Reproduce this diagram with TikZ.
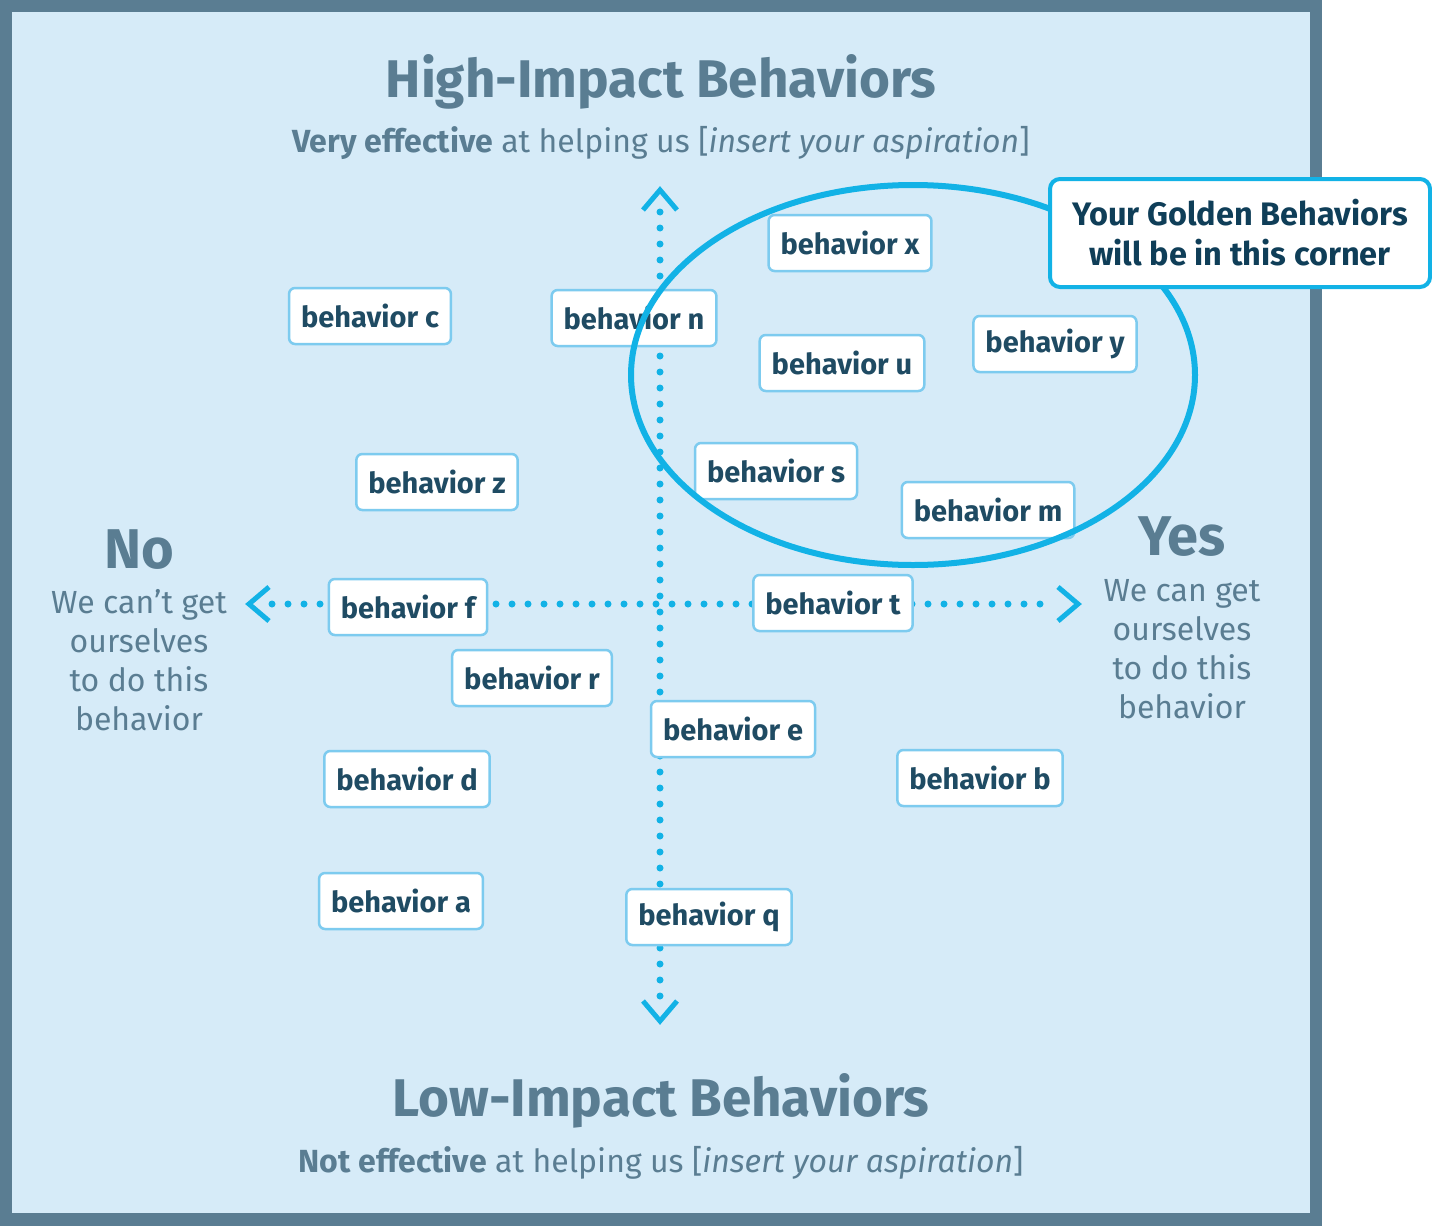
\documentclass[tikz,border=0pt]{standalone}
\usepackage{fontspec}
\setmainfont{Fira Sans}
\usetikzlibrary{calc}
\definecolor{framec}{HTML}{5A7D92}
\definecolor{bgc}{HTML}{D6EBF8}
\definecolor{cyanl}{HTML}{12B2E6}
\definecolor{boxb}{HTML}{7DCBEF}
\definecolor{ink}{HTML}{1F4B63}
\definecolor{inkd}{HTML}{0F3E58}
\definecolor{headc}{HTML}{5A7D92}
\tikzset{
  beh/.style={draw=boxb, line width=2.5pt, fill=white, rounded corners=6pt, text=ink,
    font=\fontsize{29}{32}\bfseries\selectfont, inner xsep=12pt, inner ysep=0pt, minimum height=56pt},
  dots/.style={cyanl, line width=7pt, line cap=round, dash pattern=on 0pt off 16pt},
  chev/.style={cyanl, line width=5pt, miter limit=10},
  headt/.style={text=headc, font=\fontsize{53}{60}\bfseries\selectfont, anchor=base, inner sep=0pt},
  yesno/.style={text=headc, font=\fontsize{56}{60}\bfseries\selectfont, anchor=base, inner sep=0pt},
  subt/.style={text=headc, font=\fontsize{32}{36}\selectfont, anchor=base, inner sep=0pt},
  sidet/.style={text=headc, font=\fontsize{32}{39}\selectfont, align=center, anchor=base, inner sep=0pt},
}
\begin{document}
\begin{tikzpicture}[x=1pt,y=-1pt]
\useasboundingbox (0,0) rectangle (1432,1226);
% frame
\fill[framec] (0,0) rectangle (1322,1226);
\fill[bgc] (12,12) rectangle (1310,1213);
% headings
\node[headt] (hi) at (661,97) {High-Impact Behaviors};
\node[subt] (his) at (661,152) {\textbf{Very effective} at helping us [\textit{insert your aspiration}]};
\node[headt] (lo) at (661,1116) {Low-Impact Behaviors};
\node[subt] (los) at (661,1172) {\textbf{Not effective} at helping us [\textit{insert your aspiration}]};
\node[yesno] (no) at (139,568) {No};
\node[sidet] (not) at (139,730) {We can’t get\\ourselves\\to do this\\behavior};
\node[yesno] (yes) at (1182,555) {Yes};
\node[sidet] (yest) at (1182,718) {We can get\\ourselves\\to do this\\behavior};
% axes
\coordinate (vt) at (660,190);
\coordinate (vb) at (660,1021);
\coordinate (hl) at (249,604);
\coordinate (hr) at (1078,604);
\draw[dots] (660,212) -- (660,998);
\draw[dots] (272,604) -- (1056,604);
\draw[chev] ($(vt)+(-17,20)$) -- (vt) -- ($(vt)+(17,20)$);
\draw[chev] ($(vb)+(-17,-20)$) -- (vb) -- ($(vb)+(17,-20)$);
\draw[chev] ($(hl)+(20,-17)$) -- (hl) -- ($(hl)+(20,17)$);
\draw[chev] ($(hr)+(-20,-17)$) -- (hr) -- ($(hr)+(-20,17)$);
% behaviors
\node[beh] (bx) at (850,243) {behavior x};
\node[beh] (bc) at (370,316) {behavior c};
\node[beh] (bn) at (634,318) {behavior n};
\node[beh] (bu) at (842,363) {behavior u};
\node[beh] (by) at (1055,344) {behavior y};
\node[beh] (bz) at (437,482) {behavior z};
\node[beh] (bs) at (776,471) {behavior s};
\node[beh] (bm) at (988,510) {behavior m};
\node[beh] (bf) at (408,607) {behavior f};
\node[beh] (bt) at (833,603) {behavior t};
\node[beh] (br) at (532,678) {behavior r};
\node[beh] (be) at (733,729) {behavior e};
\node[beh] (bd) at (407,779) {behavior d};
\node[beh] (bb) at (980,778) {behavior b};
\node[beh] (ba) at (401,901) {behavior a};
\node[beh] (bq) at (709,917) {behavior q};
% golden ellipse
\draw[cyanl, line width=6pt] (913,375) ellipse [x radius=282, y radius=190];
% callout
\node[draw=cyanl, line width=4pt, fill=white, rounded corners=10pt, text=inkd,
  font=\fontsize{32.5}{40}\bfseries\selectfont, align=center,
  minimum width=380pt, minimum height=108pt, inner sep=0pt] (call) at (1240,233)
  {Your Golden Behaviors\\will be in this corner};
\end{tikzpicture}
\end{document}
